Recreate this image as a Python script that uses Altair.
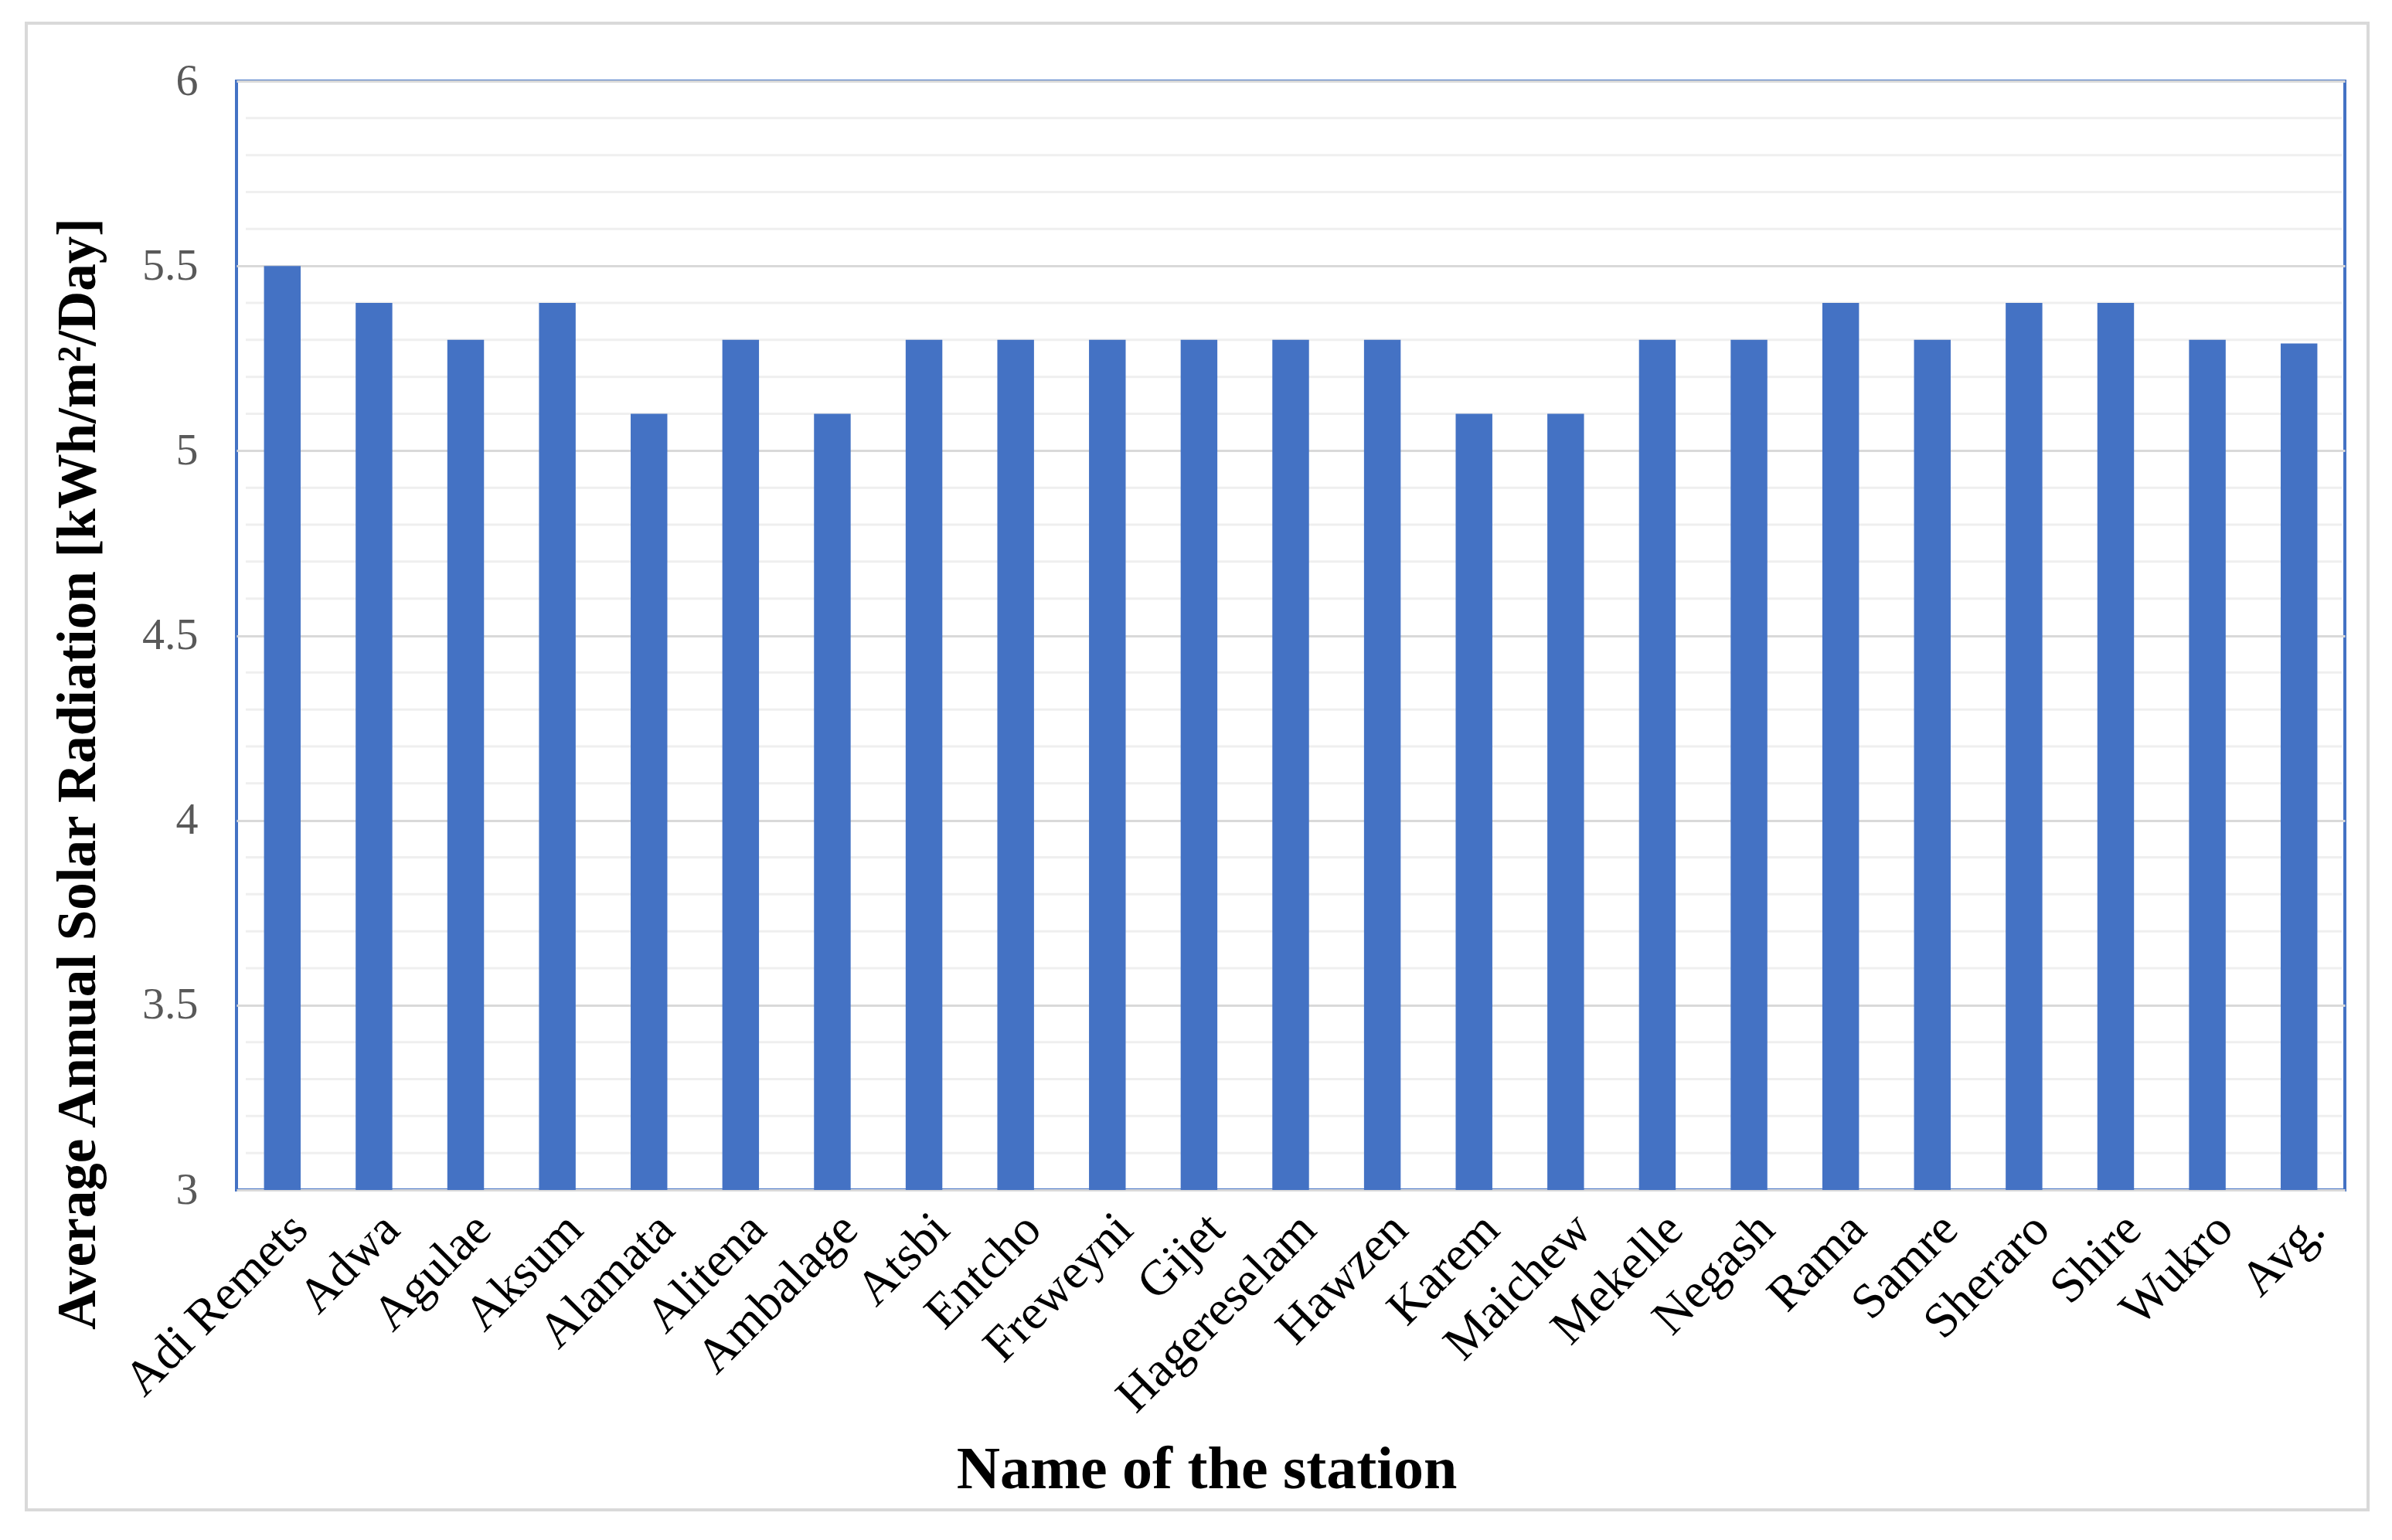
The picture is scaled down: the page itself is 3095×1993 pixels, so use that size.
import altair as alt
import pandas as pd

stations = ["Adi Remets", "Adwa", "Agulae", "Aksum", "Alamata", "Alitena", "Ambalage",
            "Atsbi", "Entcho", "Freweyni", "Gijet", "Hagereselam", "Hawzen", "Karem",
            "Maichew", "Mekelle", "Negash", "Rama", "Samre", "Sheraro", "Shire", "Wukro", "Avg."]
radiation = [5.5, 5.4, 5.3, 5.4, 5.1, 5.3, 5.1, 5.3, 5.3, 5.3, 5.3, 5.3, 5.3, 5.1,
             5.1, 5.3, 5.3, 5.4, 5.3, 5.4, 5.4, 5.3, 5.29]
major_ticks = [3, 3.5, 4, 4.5, 5, 5.5, 6]
minor_ticks = [3.1, 3.2, 3.3, 3.4, 3.6, 3.7, 3.8, 3.9, 4.1, 4.2, 4.3, 4.4,
               4.6, 4.7, 4.8, 4.9, 5.1, 5.2, 5.3, 5.4, 5.6, 5.7, 5.8, 5.9]

df = pd.DataFrame({"station": stations, "value": radiation})
minor_df = pd.DataFrame({"v": minor_ticks})

FONT = "Liberation Serif"
W, H = 2728, 1435
yscale = alt.Scale(domain=[3, 6], nice=False, zero=False)

yaxis = alt.Axis(values=major_ticks, format="~g", grid=True,
                 gridColor="#d9d9d9", gridWidth=3, ticks=False, domain=False,
                 labelFont=FONT, labelFontSize=58, labelColor="#595959",
                 labelPadding=50,
                 title="Average Annual Solar Radiation [kWh/m²/Day]",
                 titleFont=FONT, titleFontSize=71, titleFontWeight="bold",
                 titleColor="black", titleBaseline="alphabetic",
                 titleX=-184, titleY=896, titleAngle=-90)

frame = alt.Chart(pd.DataFrame({"a": [0]})).mark_rect(
    fillOpacity=0, stroke="#d9d9d9", strokeWidth=4
).encode(
    x=alt.value(-272), x2=alt.value(2758), y=alt.value(-75), y2=alt.value(1849)
)

minor = alt.Chart(minor_df).mark_rule(color="#efefef", strokeWidth=3).encode(
    x=alt.value(12), x2=alt.value(W - 4),
    y=alt.Y("v:Q", scale=yscale, axis=yaxis)
)

bars = alt.Chart(df).mark_bar(color="#4472C4").encode(
    x=alt.X("station:N", sort=stations,
            scale=alt.Scale(paddingInner=0.6, paddingOuter=0.3),
            axis=alt.Axis(title="Name of the station", labelAngle=-45,
                          labelFont=FONT, labelFontSize=64, labelColor="black",
                          labelPadding=18, labelLimit=0, ticks=False, domain=False,
                          grid=False,
                          titleFont=FONT, titleFontSize=78, titleFontWeight="bold",
                          titleColor="black", titleBaseline="alphabetic",
                          titleAlign="center", titleX=1255, titleY=385)),
    y=alt.Y("value:Q", scale=yscale, axis=yaxis),
    y2=alt.datum(3),
)

chart = alt.layer(frame, minor, bars).properties(
    width=W, height=H,
    autosize=alt.AutoSizeParams(type="none"),
    padding={"left": 298, "top": 97, "right": 40, "bottom": 430},
    background="white",
).configure_view(stroke="#4472C4", strokeWidth=4)

chart.save("out.html", embed_options={"renderer": "svg", "actions": False})
